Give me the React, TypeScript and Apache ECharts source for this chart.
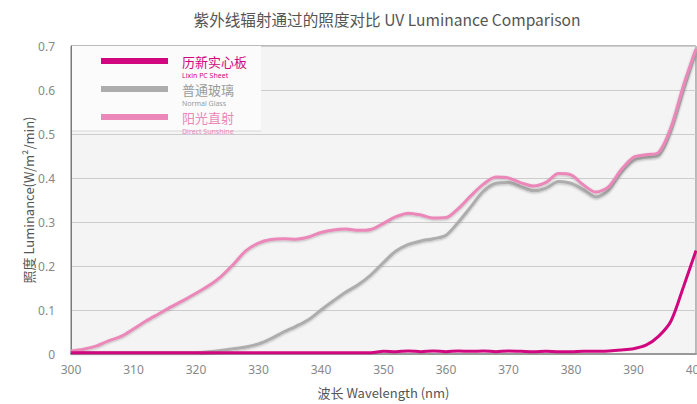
import React, { useEffect, useRef } from "react";
import * as echarts from "echarts";

const wavelengths = [
  300, 302, 304, 306, 308, 310, 312, 314, 316, 318, 320, 322, 324, 326, 328, 330, 332, 334, 336, 338,
  340, 342, 344, 346, 348, 350, 352, 354, 356, 358, 360, 362, 364, 366, 368, 370, 372, 374, 376, 378,
  380, 382, 384, 386, 388, 390, 392, 394, 396, 398, 400,
];

const sunshine = [
  0.007, 0.011, 0.018, 0.03, 0.04, 0.057, 0.075, 0.091, 0.107, 0.122, 0.138, 0.155, 0.176, 0.204, 0.235,
  0.252, 0.26, 0.262, 0.261, 0.266, 0.276, 0.282, 0.284, 0.281, 0.283, 0.297, 0.312, 0.32, 0.316, 0.309,
  0.31, 0.331, 0.36, 0.386, 0.402, 0.4, 0.389, 0.382, 0.39, 0.41, 0.407, 0.384, 0.368, 0.38, 0.418, 0.447,
  0.453, 0.458, 0.515, 0.61, 0.693,
];

const normalGlass = [
  0.003, 0.003, 0.003, 0.003, 0.003, 0.003, 0.003, 0.003, 0.003, 0.003, 0.003, 0.005, 0.008, 0.012, 0.016,
  0.023, 0.035, 0.05, 0.063, 0.078, 0.1, 0.121, 0.141, 0.158, 0.18, 0.208, 0.234, 0.249, 0.257, 0.262,
  0.27, 0.3, 0.335, 0.37, 0.388, 0.39, 0.38, 0.371, 0.377, 0.392, 0.388, 0.373, 0.357, 0.372, 0.412, 0.44,
  0.447, 0.451, 0.508, 0.6, 0.688,
];

const lixin = [
  0.003, 0.003, 0.003, 0.003, 0.003, 0.003, 0.003, 0.003, 0.003, 0.003, 0.003, 0.003, 0.003, 0.003, 0.003,
  0.003, 0.003, 0.003, 0.003, 0.003, 0.003, 0.003, 0.003, 0.003, 0.003, 0.006, 0.005, 0.007, 0.005, 0.007,
  0.005, 0.007, 0.006, 0.007, 0.005, 0.007, 0.006, 0.005, 0.006, 0.005, 0.005, 0.006, 0.006, 0.007, 0.009,
  0.012, 0.02, 0.04, 0.075, 0.153, 0.235,
];

const legendItems = [
  { zh: "历新实心板", en: "Lixin PC Sheet", color: "#d1077f", textColor: "#d1077f" },
  { zh: "普通玻璃", en: "Normal Glass", color: "#adadad", textColor: "#9a9a9a" },
  { zh: "阳光直射", en: "Direct Sunshine", color: "#ec87b9", textColor: "#ec87b9" },
];

const titleText = "紫外线辐射通过的照度对比 UV Luminance Comparison";
const xName = "波长 Wavelength (nm)";
const yName = "照度 Luminance(W/m²/min)";

const FONT = "'Noto Sans', 'Noto Sans CJK SC', sans-serif";
const CJK = "'Noto Sans CJK SC', sans-serif";

function pairs(vals: number[]) {
  return wavelengths.map((w, i) => [w, vals[i]]);
}

export default function App() {
  const ref = useRef<HTMLDivElement>(null);
  useEffect(() => {
    if (!ref.current) return;
    const chart = echarts.init(ref.current, undefined, { renderer: "svg" });

    const legendGraphics: any[] = [
      {
        type: "rect",
        shape: { x: 72, y: 46, width: 189, height: 85 },
        style: { fill: "#fbfbfb" },
        z: 10,
      },
      {
        type: "line",
        shape: { x1: 72, y1: 131, x2: 261, y2: 131 },
        style: { stroke: "#d8d8d8", lineWidth: 1 },
        z: 10,
      },
    ];
    legendItems.forEach((it, i) => {
      const y = 61 + i * 28;
      legendGraphics.push({
        type: "line",
        shape: { x1: 101, y1: y, x2: 168, y2: y },
        style: { stroke: it.color, lineWidth: 6 },
        z: 11,
      });
      legendGraphics.push({
        type: "text",
        x: 182,
        y: y - 6,
        style: {
          text: it.zh,
          fill: it.textColor,
          font: `13px ${CJK}`,
          verticalAlign: "top",
          lineHeight: 13,
        },
        z: 11,
      });
      legendGraphics.push({
        type: "text",
        x: 182,
        y: y + 10,
        style: {
          text: it.en,
          fill: it.textColor,
          font: `7px ${FONT}`,
          verticalAlign: "top",
          lineHeight: 8,
        },
        z: 11,
      });
    });

    const lineShadow = {
      shadowColor: "rgba(0,0,0,0.25)",
      shadowBlur: 2,
      shadowOffsetY: 1,
    };

    chart.setOption({
      animation: false,
      backgroundColor: "#ffffff",
      title: {
        text: titleText,
        left: 382,
        top: 6,
        textAlign: "center",
        textStyle: {
          color: "#555555",
          fontSize: 15.6,
          fontWeight: "normal",
          fontFamily: CJK,
        },
      },
      grid: {
        left: 71,
        right: 1,
        top: 46,
        bottom: 50,
        containLabel: false,
        outerBoundsMode: "none",
        show: true,
        backgroundColor: "#f4f4f4",
        borderColor: "#7a7a7a",
        borderWidth: 1,
      },
      xAxis: {
        type: "value",
        min: 300,
        max: 400,
        interval: 10,
        name: xName,
        nameLocation: "middle",
        nameGap: 32,
        nameMoveOverlap: false,
        nameTextStyle: { color: "#555", fontSize: 13, fontFamily: CJK },
        axisLine: { show: true, lineStyle: { color: "#999", width: 2 } },
        axisTick: { show: false },
        axisLabel: { color: "#888", fontSize: 12, margin: 9, fontFamily: FONT },
        splitLine: { show: false },
      },
      yAxis: {
        type: "value",
        min: 0,
        max: 0.7,
        interval: 0.1,
        name: yName,
        nameLocation: "middle",
        nameGap: 36,
        nameMoveOverlap: false,
        nameTextStyle: { color: "#555", fontSize: 13, fontFamily: CJK },
        axisLine: { show: true, lineStyle: { color: "#7a7a7a", width: 1 } },
        axisTick: { show: false },
        axisLabel: { color: "#888", fontSize: 12, margin: 16, fontFamily: FONT },
        splitLine: { show: true, lineStyle: { color: "#cccccc", width: 1 } },
      },
      series: [
        {
          name: "普通玻璃",
          type: "line",
          data: pairs(normalGlass),
          smooth: 0.3,
          showSymbol: false,
          lineStyle: { color: "#adadad", width: 3, ...lineShadow },
          z: 2,
        },
        {
          name: "阳光直射",
          type: "line",
          data: pairs(sunshine),
          smooth: 0.3,
          showSymbol: false,
          lineStyle: { color: "#ec87b9", width: 3, ...lineShadow },
          z: 3,
        },
        {
          name: "历新实心板",
          type: "line",
          data: pairs(lixin),
          smooth: 0.3,
          showSymbol: false,
          lineStyle: { color: "#d1077f", width: 3 },
          z: 4,
        },
      ],
      graphic: legendGraphics,
    });
    return () => chart.dispose();
  }, []);
  return (
    <div
      ref={ref}
      style={{ position: "fixed", left: 0, top: 0, width: 697, height: 404 }}
    />
  );
}
